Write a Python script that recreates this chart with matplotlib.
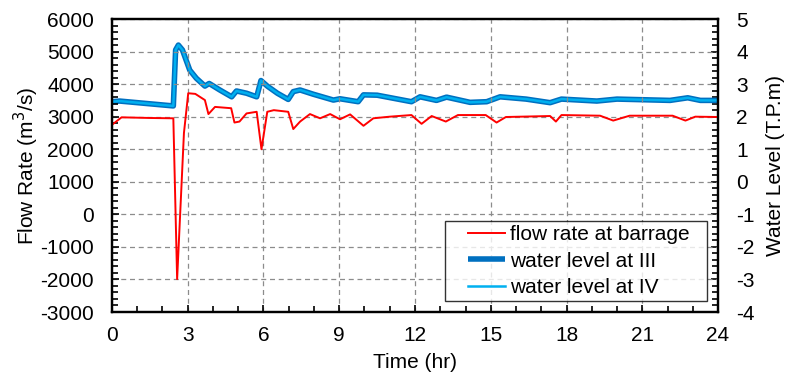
import matplotlib
matplotlib.use("Agg")
import matplotlib.pyplot as plt
from matplotlib.ticker import MultipleLocator
from matplotlib.legend_handler import HandlerLine2D
from matplotlib.lines import Line2D

plt.rcParams['font.family'] = ['Liberation Sans', 'DejaVu Sans']
plt.rcParams['axes.unicode_minus'] = False

# Flow rate at the barrage (m3/s)
flow_t = [0.0, 0.38, 1.5, 2.43, 2.58, 2.85, 3.02, 3.3, 3.68, 3.82, 4.08, 4.72, 4.85, 5.05,
          5.33, 5.73, 5.92, 6.15, 6.41, 6.98, 7.18, 7.45, 7.84, 8.24, 8.64, 9.03, 9.43,
          9.96, 10.35, 11.0, 11.86, 12.26, 12.66, 13.22, 13.7, 14.8, 15.23, 15.6, 17.35,
          17.58, 17.8, 19.33, 19.85, 20.5, 22.2, 22.71, 23.1, 24.0]
flow_q = [2750, 2980, 2960, 2950, -1990, 2500, 3720, 3700, 3510, 3080, 3300, 3260, 2820, 2850,
          3100, 3150, 2000, 3150, 3200, 3150, 2620, 2850, 3080, 2950, 3080, 2920, 3070,
          2720, 2950, 3000, 3050, 2780, 3020, 2850, 3050, 3050, 2820, 2990, 3020,
          2850, 3050, 3030, 2880, 3030, 3030, 2880, 3000, 2990]

# Water levels (T.P.m)
level_t = [0.0, 0.3, 2.43, 2.52, 2.63, 2.79, 3.08, 3.34, 3.68, 3.85, 4.27, 4.74, 4.93, 5.33,
           5.73, 5.9, 6.15, 6.55, 6.98, 7.18, 7.45, 7.97, 8.77, 9.03, 9.75, 9.96, 10.5,
           11.86, 12.2, 12.85, 13.25, 14.18, 14.84, 15.37, 16.4, 17.35, 17.8, 19.2, 20.0,
           22.1, 22.8, 23.3, 24.0]
level_iii = [2.46, 2.48, 2.33, 4.05, 4.2, 4.05, 3.43, 3.18, 2.94, 3.02, 2.82, 2.61, 2.79, 2.72,
             2.61, 3.11, 2.94, 2.72, 2.53, 2.77, 2.82, 2.69, 2.51, 2.55, 2.46, 2.67, 2.66,
             2.46, 2.61, 2.5, 2.6, 2.44, 2.46, 2.61, 2.54, 2.43, 2.54, 2.48, 2.54,
             2.5, 2.58, 2.5, 2.5]
level_iv = [2.46, 2.48, 2.33, 4.05, 4.2, 4.05, 3.43, 3.18, 2.94, 3.02, 2.82, 2.61, 2.79, 2.72,
            2.61, 3.11, 2.94, 2.72, 2.53, 2.77, 2.82, 2.69, 2.51, 2.55, 2.46, 2.67, 2.66,
            2.46, 2.61, 2.5, 2.6, 2.44, 2.46, 2.61, 2.54, 2.43, 2.54, 2.48, 2.54,
            2.5, 2.58, 2.5, 2.5]

FS = 15


class InsetLineHandler(HandlerLine2D):
    """Legend line sample drawn only over the right part of the handle box."""

    def __init__(self, start_frac=0.33, **kw):
        super().__init__(**kw)
        self.start_frac = start_frac

    def create_artists(self, legend, orig_handle, xdescent, ydescent, width, height,
                       fontsize, trans):
        artists = super().create_artists(legend, orig_handle, xdescent, ydescent, width,
                                         height, fontsize, trans)
        for a in artists:
            if isinstance(a, Line2D):
                xd = list(a.get_xdata())
                if len(xd) >= 2:
                    x0 = xd[0] + (xd[-1] - xd[0]) * self.start_frac
                    a.set_xdata([x0, xd[-1]])
                    a.set_ydata(list(a.get_ydata())[:2])
        return artists


fig = plt.figure(figsize=(7.88, 3.75), dpi=100)
ax = fig.add_axes([0.1421, 0.168, 0.7691, 0.7813])
ax2 = ax.twinx()

l3, = ax2.plot(level_t, level_iii, color='#0070C0', lw=4.0, solid_capstyle='butt',
               label='water level at III')
l4, = ax2.plot(level_t, level_iv, color='#00B0F0', lw=1.8, label='water level at IV')
l1, = ax.plot(flow_t, flow_q, color='#FF0000', lw=1.4, label='flow rate at barrage')
ax.set_zorder(ax2.get_zorder() + 1)
ax.patch.set_visible(False)

ax.set_xlim(0, 24)
ax.set_ylim(-3000, 6000)
ax2.set_ylim(-4, 5)
ax.xaxis.set_major_locator(MultipleLocator(3))
ax.xaxis.set_minor_locator(MultipleLocator(1))
ax.yaxis.set_major_locator(MultipleLocator(1000))
ax.yaxis.set_minor_locator(MultipleLocator(200))
ax2.yaxis.set_major_locator(MultipleLocator(1))
ax2.yaxis.set_minor_locator(MultipleLocator(0.2))

ax.grid(True, which='major', color='#8c8c8c', linestyle=(0, (4, 3)), lw=0.9)
ax.set_axisbelow(True)

for a in (ax, ax2):
    for s in a.spines.values():
        s.set_linewidth(1.6)
        s.set_color('black')
ax.tick_params(axis='both', which='both', direction='in', labelsize=FS, width=1.2)
ax.tick_params(which='major', length=5)
ax.tick_params(which='minor', length=4)
ax.tick_params(axis='y', right=False)
ax.tick_params(axis='x', pad=10)
ax.tick_params(axis='y', pad=13)
ax2.tick_params(axis='y', which='both', direction='in', labelsize=FS, width=1.2, pad=13)
ax2.tick_params(which='major', length=5)
ax2.tick_params(which='minor', length=4)

ax.set_xlabel('Time (hr)', fontsize=FS, labelpad=6)
ax.set_ylabel('Flow Rate (m$^3$/s)', fontsize=FS, labelpad=-0.5)
ax2.set_ylabel('Water Level (T.P.m)', fontsize=FS, labelpad=8)

leg = ax.legend(handles=[l1, l3, l4], loc='lower left',
                bbox_to_anchor=(0.5495, 0.0375, 0.4323, 0.28), mode='expand',
                fontsize=FS, frameon=True, fancybox=False, handlelength=2.7,
                borderpad=0.2, labelspacing=0.35, handletextpad=0.2, borderaxespad=0,
                handler_map={Line2D: InsetLineHandler(start_frac=0.33)})
leg.get_frame().set_edgecolor('black')
leg.get_frame().set_linewidth(1.0)

fig.savefig('out.png', dpi=100)
